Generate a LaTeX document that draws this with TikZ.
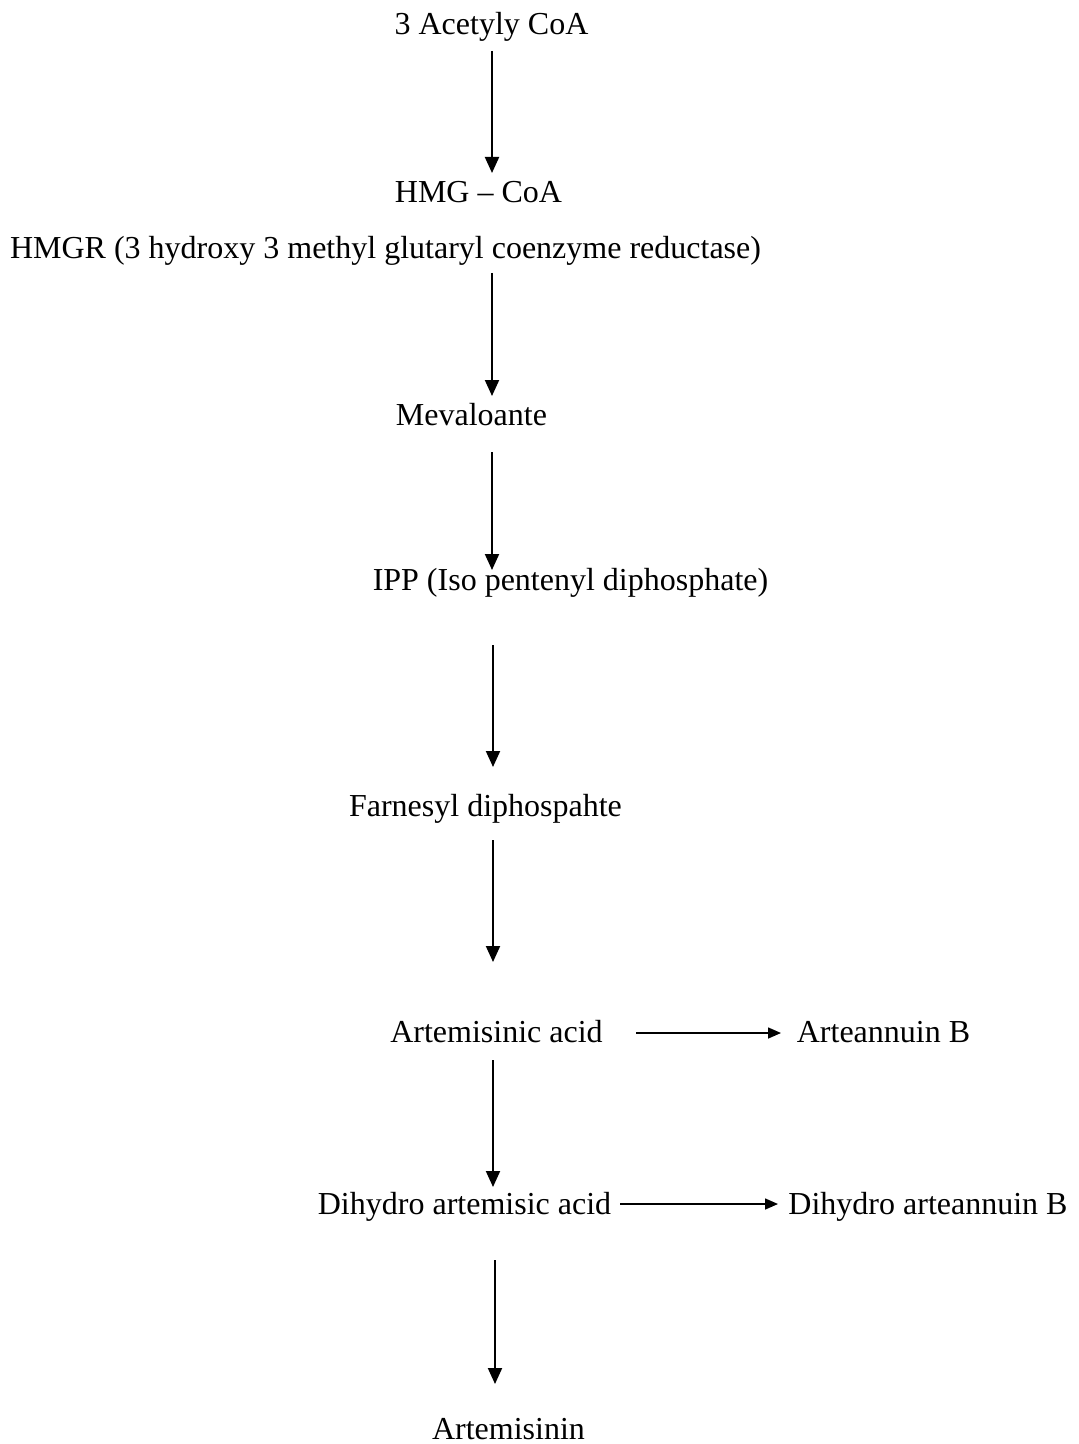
\documentclass[tikz,border=0pt]{standalone}
\usepackage{fontspec}
\setmainfont{Liberation Serif}
\usetikzlibrary{arrows.meta}

\begin{document}
\begin{tikzpicture}[x=0.5pt,y=-0.5pt,
  compound/.style={inner sep=0pt,anchor=base,font=\fontsize{16}{19}\selectfont},
  flow/.style={line width=1pt,-{Triangle[length=8pt,width=7pt]}},
  side/.style={line width=0.8pt,-{Triangle[length=6.5pt,width=5.5pt]}}]
\useasboundingbox (0,0) rectangle (1079,1444);
% compounds of the pathway
\node[compound] (acetyl) at (491.5,35) {3 Acetyly CoA};
\node[compound] (hmg) at (478.5,203) {HMG -- CoA};
\node[compound] (hmgr) at (385.5,259) {HMGR (3 hydroxy 3 methyl glutaryl coenzyme reductase)};
\node[compound] (meva) at (471.5,425) {Mevaloante};
\node[compound] (ipp) at (570.5,590) {IPP (Iso pentenyl diphosphate)};
\node[compound] (farn) at (485.5,816) {Farnesyl diphospahte};
\node[compound] (artac) at (496.5,1042) {Artemisinic acid};
\node[compound] (artB) at (883.5,1042) {Arteannuin B};
\node[compound] (dihac) at (464.5,1214) {Dihydro artemisic acid};
\node[compound] (dihB) at (928,1214) {Dihydro arteannuin B};
\node[compound] (artem) at (508.5,1439) {Artemisinin};
% arrow ends
\coordinate (s1) at (492,51); \coordinate (t1) at (492,173);
\coordinate (s2) at (492,273); \coordinate (t2) at (492,396);
\coordinate (s3) at (492,452); \coordinate (t3) at (492,570);
\coordinate (s4) at (493,645); \coordinate (t4) at (493,767);
\coordinate (s5) at (493,840); \coordinate (t5) at (493,962);
\coordinate (s6) at (493,1060); \coordinate (t6) at (493,1187);
\coordinate (s7) at (495,1260); \coordinate (t7) at (495,1384);
\coordinate (h1) at (636,1033); \coordinate (k1) at (781,1033);
\coordinate (h2) at (620,1204); \coordinate (k2) at (778,1204);
\foreach \s/\t in {s1/t1,s2/t2,s3/t3,s4/t4,s5/t5,s6/t6,s7/t7}
  \draw[flow] (\s) -- (\t);
\draw[side] (h1) -- (k1);
\draw[side] (h2) -- (k2);
\end{tikzpicture}
\end{document}
